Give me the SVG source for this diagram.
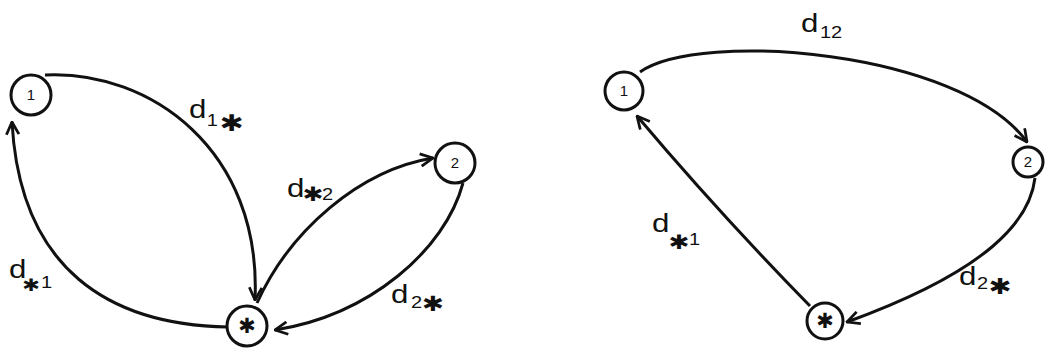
<svg xmlns="http://www.w3.org/2000/svg" width="1045" height="353" viewBox="0 0 1045 353">
<style>
.node{fill:none;stroke:#111;stroke-width:3}
.nl{font-family:"Liberation Sans",Arial,sans-serif;font-size:15px;fill:#111;text-anchor:middle}
.ns{font-family:"DejaVu Sans",sans-serif;font-size:21px;fill:#111;text-anchor:middle}
.edge{fill:none;stroke:#111;stroke-width:3;marker-end:url(#arr)}
.lbl{font-family:"Liberation Sans",Arial,sans-serif;font-size:25px;fill:#111}
.sub{font-size:16px}
.ast{font-family:"DejaVu Sans",sans-serif}
</style>
<defs>
<marker id="arr" viewBox="0 0 12 12" refX="11" refY="6" markerWidth="15" markerHeight="15" markerUnits="userSpaceOnUse" orient="auto">
<path d="M1,1 L11,6 L1,11" fill="none" stroke="#111" stroke-width="2.2" stroke-linejoin="miter"/>
</marker>
</defs>
<rect width="1045" height="353" fill="#fff"/>
<g id="connectors">
<path class="edge" d="M 45 75 C 150 70, 262 150, 255 300"/>
<path class="edge" d="M 228 327 C 110 325, 20 270, 12 122"/>
<path class="edge" d="M 257 303 C 290 230, 360 170, 433 158"/>
<path class="edge" d="M 463 183 C 445 250, 370 315, 275 330"/>
<path class="edge" d="M 640 72 C 700 30, 960 50, 1027 142"/>
<path class="edge" d="M 1035 178 C 1030 220, 990 270, 847 322"/>
<path class="edge" d="M 810 306 Q 718 212 637 116"/>
</g>
<g id="labels">
<text id="lbl-L-d1s" class="lbl" transform="translate(189,118) scale(1.25,1)"><tspan x="0" y="0">d</tspan><tspan class="sub" x="14.3" y="8">1</tspan><tspan class="ast" x="24.5" y="13" font-size="23">✱</tspan></text>
<text id="lbl-L-ds1" class="lbl" transform="translate(9,278) scale(1.25,1)"><tspan x="0" y="0">d</tspan><tspan class="ast" x="10.5" y="13" font-size="17">✱</tspan><tspan class="sub" x="25.6" y="10">1</tspan></text>
<text id="lbl-L-ds2" class="lbl" transform="translate(287,197) scale(1.25,1)"><tspan x="0" y="0">d</tspan><tspan class="ast" x="12.4" y="4" font-size="20">✱</tspan><tspan class="sub" x="28" y="3">2</tspan></text>
<text id="lbl-L-d2s" class="lbl" transform="translate(391,303) scale(1.25,1)"><tspan x="0" y="0">d</tspan><tspan class="sub" x="16" y="5">2</tspan><tspan class="ast" x="24.8" y="8" font-size="21">✱</tspan></text>
<text id="lbl-R-d12" class="lbl" transform="translate(801,32) scale(1.25,1)"><tspan x="0" y="0">d</tspan><tspan class="sub" x="15.2" y="6">12</tspan></text>
<text id="lbl-R-ds1" class="lbl" transform="translate(652,232) scale(1.25,1)"><tspan x="0" y="0">d</tspan><tspan class="ast" x="13.2" y="17" font-size="20">✱</tspan><tspan class="sub" x="29.6" y="13">1</tspan></text>
<text id="lbl-R-d2s" class="lbl" transform="translate(959,285) scale(1.25,1)"><tspan x="0" y="0">d</tspan><tspan class="sub" x="14.4" y="4">2</tspan><tspan class="ast" x="23.6" y="9" font-size="22">✱</tspan></text>
</g>
<g id="L1"><circle class="node" cx="31" cy="95" r="20"/><text class="nl" x="31" y="100">1</text></g>
<g id="Lstar"><circle class="node" cx="247" cy="326" r="20"/><text class="ns" x="247" y="333">✱</text></g>
<g id="L2"><circle class="node" cx="455" cy="163" r="20"/><text class="nl" x="455" y="168">2</text></g>
<g id="R1"><circle class="node" cx="624" cy="91" r="19"/><text class="nl" x="624" y="96">1</text></g>
<g id="R2"><circle class="node" cx="1028" cy="162" r="15"/><text class="nl" x="1028" y="167">2</text></g>
<g id="Rstar"><circle class="node" cx="825" cy="321" r="18"/><text class="ns" x="825" y="328">✱</text></g>
</svg>
